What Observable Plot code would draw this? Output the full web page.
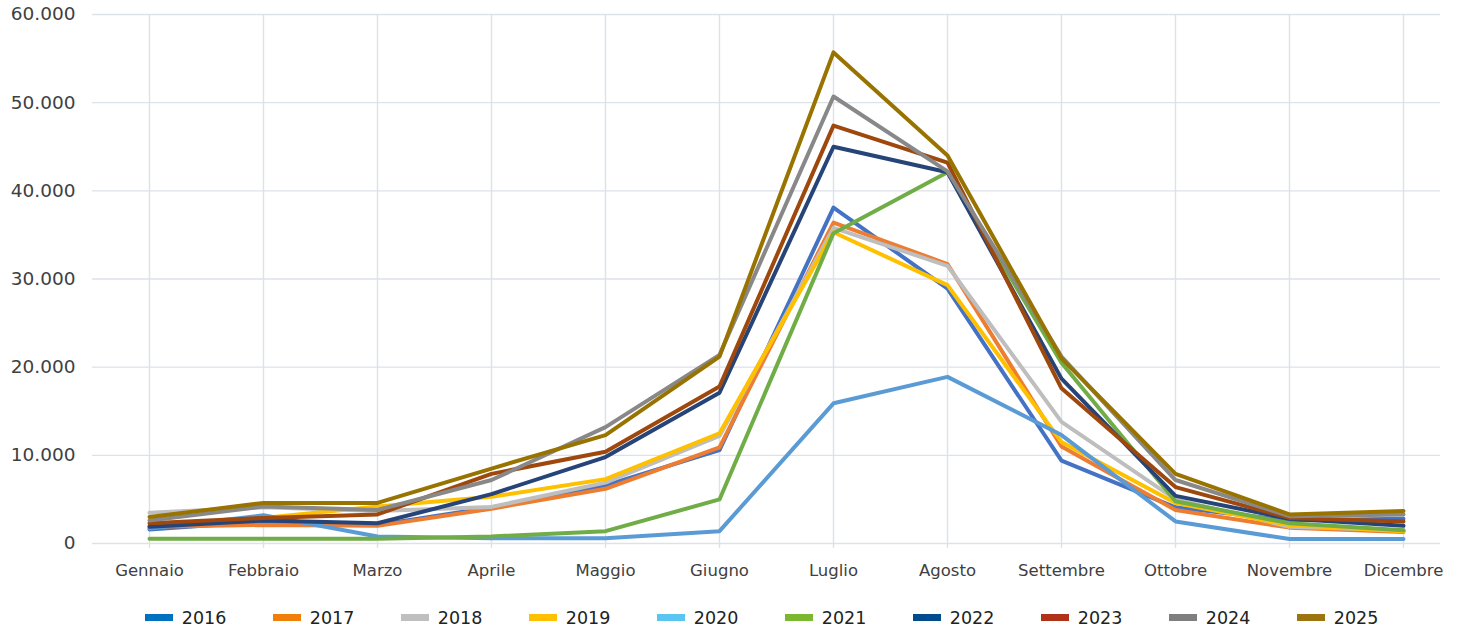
<!DOCTYPE html>
<html>
<head>
<meta charset="utf-8">
<script src="https://cdn.jsdelivr.net/npm/d3@7"></script>
<script src="https://cdn.jsdelivr.net/npm/@observablehq/plot@0.6"></script>
<style>
  body { margin: 0; background: #fff; font-family: "DejaVu Sans", sans-serif; overflow: hidden; }
  #legend { padding-left: 145px; margin-top: 6px; }
  #legend .leg-swatch { width: 128px; margin-right: 0 !important; }
</style>
</head>
<body>
<div id="chart"></div>
<div id="legend"></div>
<script>
const months = ["Gennaio","Febbraio","Marzo","Aprile","Maggio","Giugno","Luglio","Agosto","Settembre","Ottobre","Novembre","Dicembre"];
const years = ["2016","2017","2018","2019","2020","2021","2022","2023","2024","2025"];

const v2016 = [1600, 2500, 2100, 4100, 6600, 10600, 38100, 28900, 9400, 4100, 2600, 2800];
const v2017 = [1900, 2100, 2000, 3950, 6200, 10900, 36400, 31700, 11000, 3800, 1800, 1300];
const v2018 = [3500, 4100, 3700, 4150, 6900, 12200, 35800, 31500, 13800, 5000, 1900, 1500];
const v2019 = [2000, 2900, 4200, 5300, 7300, 12500, 35300, 29300, 11500, 4600, 2100, 1400];
const v2020 = [1700, 3200, 800, 600, 600, 1400, 15900, 18900, 12300, 2500, 500, 500];
const v2021 = [550, 550, 550, 800, 1400, 5000, 35200, 42100, 20500, 4800, 2300, 1500];
const v2022 = [1900, 2600, 2300, 5600, 9800, 17100, 45000, 42100, 18700, 5400, 2800, 2000];
const v2023 = [2300, 2900, 3300, 7900, 10400, 17800, 47400, 43200, 17600, 6400, 2900, 2500];
const v2024 = [2600, 4200, 3800, 7200, 13200, 21400, 50700, 42200, 21200, 7200, 3100, 3300];
const v2025 = [3000, 4600, 4600, 8500, 12300, 21200, 55700, 44000, 21000, 7900, 3300, 3700];

const yTicks = [0, 10000, 20000, 30000, 40000, 50000, 60000];

const lineColors = ["#4472C4","#ED7D31","#BEBEBE","#FFC000","#5B9BD5","#70AD47","#264478","#9E480E","#888888","#997300"];
const legendColors = ["#0070C0","#F07F09","#BFBFBF","#FFC000","#5BC5F2","#7CB82F","#004C8C","#AE3319","#7F7F7F","#9C7510"];

const series = [v2016, v2017, v2018, v2019, v2020, v2021, v2022, v2023, v2024, v2025];
const data = years.flatMap((yr, i) => months.map((m, j) => ({year: yr, month: m, value: series[i][j]})));

const fmt = v => d3.format(",")(v).replace(/,/g, ".");
const grid = "#dde1e8";

const chart = Plot.plot({
  width: 1461,
  height: 595,
  marginTop: 14,
  marginBottom: 52,
  marginLeft: 92,
  marginRight: 21,
  style: { fontFamily: "'DejaVu Sans', sans-serif", color: "#404040", background: "#fff" },
  x: { type: "point", domain: months, range: [148, 1404], padding: 0, label: null },
  y: { domain: [0, 60000], label: null },
  color: { domain: years, range: lineColors },
  marks: [
    Plot.ruleY(yTicks, { stroke: grid, strokeWidth: 1.4 }),
    Plot.ruleX(months, { x: d => d, stroke: grid, strokeWidth: 1.4, insetBottom: -5 }),
    Plot.axisY({ ticks: yTicks, tickFormat: fmt, tickSize: 0, tickPadding: 17, fontSize: 18.5, label: null }),
    Plot.axisX({ tickSize: 0, tickPadding: 21, fontSize: 16.5, label: null }),
    Plot.line(data, { x: "month", y: "value", z: "year", stroke: "year", strokeWidth: 4, strokeLinejoin: "round" })
  ]
});
document.getElementById("chart").append(chart);

const legend = Plot.legend({
  color: { domain: years, range: legendColors },
  swatchWidth: 28,
  swatchHeight: 7,
  className: "leg",
  style: { fontFamily: "'DejaVu Sans', sans-serif", fontSize: "17.5px", color: "#222" }
});
document.getElementById("legend").append(legend);
</script>
</body>
</html>
